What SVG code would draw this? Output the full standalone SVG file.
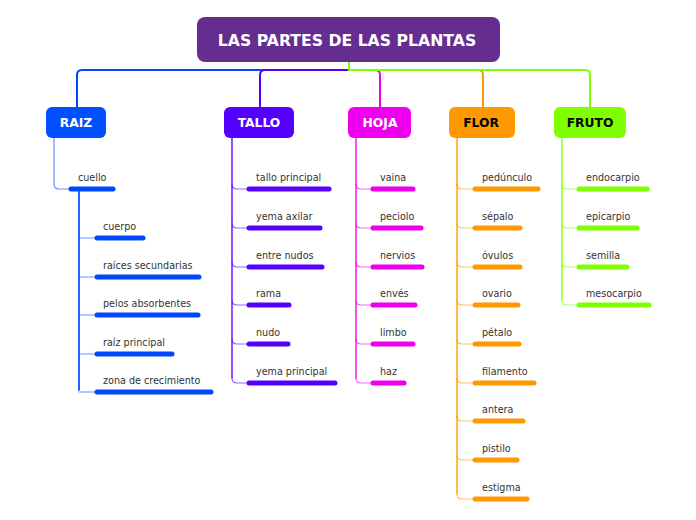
<svg xmlns="http://www.w3.org/2000/svg" width="696" height="520" viewBox="0 0 696 520">
<style>
.t{font-family:"DejaVu Sans",Verdana,sans-serif;font-size:9.6px;fill:#333}
.h{font-family:"DejaVu Sans",Verdana,sans-serif;font-weight:bold;font-size:12.3px;text-anchor:middle}
.c{fill:none;stroke-width:2;stroke-linecap:round}
.s{fill:none;stroke-width:1.2;opacity:.6}
.b{stroke-width:5;stroke-linecap:round}
.blue{stroke:#0047FF}.pur{stroke:#5500FF}.mag{stroke:#EE00EE}.ora{stroke:#FF9900}.grn{stroke:#80FF00}
</style>
<rect width="696" height="520" fill="#fff"/>
<g id="connectors">
<path class="c blue" d="M349,62 V70 H82 Q77,70 77,75 V107"/>
<path class="c pur" d="M349,62 V70 H265 Q260,70 260,75 V107"/>
<path class="c mag" d="M349,62 V70 H375 Q380,70 380,75 V107"/>
<path class="c ora" d="M349,62 V70 H478 Q483,70 483,75 V107"/>
<path class="c grn" d="M349,62 V70 H585 Q590,70 590,75 V107"/>
<!-- RAIZ -->
<path class="s blue" d="M54,138 V184 Q54,189 59,189 H69"/>
<path class="c blue" d="M79,189 V390" style="opacity:.85"/>
<path class="s blue" d="M79,238 H95 M79,277 H95 M79,315 H95 M79,354 H95 M79,392 H95"/>
<!-- TALLO -->
<path class="c pur" d="M232,138 V378" style="stroke-width:1.5;opacity:.9"/>
<path class="s pur" d="M232,184 Q232,189 237,189 H247 M232,223 Q232,228 237,228 H247 M232,262 Q232,267 237,267 H247 M232,300 Q232,305 237,305 H247 M232,339 Q232,344 237,344 H247 M232,378 Q232,383 237,383 H247"/>
<!-- HOJA -->
<path class="c mag" d="M356,138 V378" style="stroke-width:1.5;opacity:.9"/>
<path class="s mag" d="M356,184 Q356,189 361,189 H371 M356,223 Q356,228 361,228 H371 M356,262 Q356,267 361,267 H371 M356,300 Q356,305 361,305 H371 M356,339 Q356,344 361,344 H371 M356,378 Q356,383 361,383 H371"/>
<!-- FLOR -->
<path class="c ora" d="M457,138 V494" style="stroke-width:1.5;opacity:.9"/>
<path class="s ora" d="M457,184 Q457,189 462,189 H473 M457,223 Q457,228 462,228 H473 M457,262 Q457,267 462,267 H473 M457,300 Q457,305 462,305 H473 M457,339 Q457,344 462,344 H473 M457,378 Q457,383 462,383 H473 M457,416 Q457,421 462,421 H473 M457,455 Q457,460 462,460 H473 M457,494 Q457,499 462,499 H473"/>
<!-- FRUTO -->
<path class="c grn" d="M562,138 V300" style="stroke-width:1.5;opacity:.9"/>
<path class="s grn" d="M562,184 Q562,189 567,189 H577 M562,223 Q562,228 567,228 H577 M562,262 Q562,267 567,267 H577 M562,300 Q562,305 567,305 H577"/>
</g>
<g id="root">
<rect x="197" y="17" width="303" height="45" rx="8" fill="#662D91"/>
<text x="347" y="46" text-anchor="middle" style="font-family:'DejaVu Sans',Verdana,sans-serif;font-weight:bold;font-size:15.7px;fill:#fff">LAS PARTES DE LAS PLANTAS</text>
</g>
<g id="raiz"><rect x="46" y="107" width="60" height="31" rx="6" fill="#0050FF"/><text class="h" x="76" y="127" fill="#fff">RAIZ</text></g>
<g id="tallo"><rect x="224" y="107" width="70" height="31" rx="6" fill="#5500FF"/><text class="h" x="259" y="127" fill="#fff">TALLO</text></g>
<g id="hoja"><rect x="348" y="107" width="63" height="31" rx="6" fill="#EE00EE"/><text class="h" x="380" y="127" fill="#fff">HOJA</text></g>
<g id="flor"><rect x="449" y="107" width="66" height="31" rx="6" fill="#FF9900"/><text class="h" x="481" y="127" fill="#000">FLOR</text></g>
<g id="fruto"><rect x="554" y="107" width="72" height="31" rx="6" fill="#80FF00"/><text class="h" x="590" y="127" fill="#000">FRUTO</text></g>
<g id="raiz-children">
<g id="cuello"><text class="t" x="78" y="181">cuello</text><line class="b blue" x1="71" y1="189" x2="113" y2="189"/></g>
<g id="cuerpo"><text class="t" x="103" y="230">cuerpo</text><line class="b blue" x1="97" y1="238" x2="143" y2="238"/></g>
<g id="raices"><text class="t" x="103" y="269">raíces secundarias</text><line class="b blue" x1="97" y1="277" x2="199" y2="277"/></g>
<g id="pelos"><text class="t" x="103" y="307">pelos absorbentes</text><line class="b blue" x1="97" y1="315" x2="198" y2="315"/></g>
<g id="raizp"><text class="t" x="103" y="346">raíz principal</text><line class="b blue" x1="97" y1="354" x2="172" y2="354"/></g>
<g id="zona"><text class="t" x="103" y="384">zona de crecimiento</text><line class="b blue" x1="97" y1="392" x2="211" y2="392"/></g>
</g>
<g id="tallo-children">
<g id="tp"><text class="t" x="256" y="181">tallo principal</text><line class="b pur" x1="249" y1="189" x2="329" y2="189"/></g>
<g id="ya"><text class="t" x="256" y="220">yema axilar</text><line class="b pur" x1="249" y1="228" x2="320" y2="228"/></g>
<g id="en"><text class="t" x="256" y="259">entre nudos</text><line class="b pur" x1="249" y1="267" x2="322" y2="267"/></g>
<g id="rama"><text class="t" x="256" y="297">rama</text><line class="b pur" x1="249" y1="305" x2="289" y2="305"/></g>
<g id="nudo"><text class="t" x="256" y="336">nudo</text><line class="b pur" x1="249" y1="344" x2="288" y2="344"/></g>
<g id="yp"><text class="t" x="256" y="375">yema principal</text><line class="b pur" x1="249" y1="383" x2="335" y2="383"/></g>
</g>
<g id="hoja-children">
<g id="vaina"><text class="t" x="380" y="181">vaina</text><line class="b mag" x1="373" y1="189" x2="413" y2="189"/></g>
<g id="peciolo"><text class="t" x="380" y="220">peciolo</text><line class="b mag" x1="373" y1="228" x2="421" y2="228"/></g>
<g id="nervios"><text class="t" x="380" y="259">nervios</text><line class="b mag" x1="373" y1="267" x2="422" y2="267"/></g>
<g id="enves"><text class="t" x="380" y="297">envés</text><line class="b mag" x1="373" y1="305" x2="415" y2="305"/></g>
<g id="limbo"><text class="t" x="380" y="336">limbo</text><line class="b mag" x1="373" y1="344" x2="413" y2="344"/></g>
<g id="haz"><text class="t" x="380" y="375">haz</text><line class="b mag" x1="373" y1="383" x2="404" y2="383"/></g>
</g>
<g id="flor-children">
<g id="ped"><text class="t" x="482" y="181">pedúnculo</text><line class="b ora" x1="475" y1="189" x2="538" y2="189"/></g>
<g id="sep"><text class="t" x="482" y="220">sépalo</text><line class="b ora" x1="475" y1="228" x2="520" y2="228"/></g>
<g id="ovu"><text class="t" x="482" y="259">óvulos</text><line class="b ora" x1="475" y1="267" x2="520" y2="267"/></g>
<g id="ova"><text class="t" x="482" y="297">ovario</text><line class="b ora" x1="475" y1="305" x2="518" y2="305"/></g>
<g id="pet"><text class="t" x="482" y="336">pétalo</text><line class="b ora" x1="475" y1="344" x2="519" y2="344"/></g>
<g id="fil"><text class="t" x="482" y="375">filamento</text><line class="b ora" x1="475" y1="383" x2="534" y2="383"/></g>
<g id="ant"><text class="t" x="482" y="413">antera</text><line class="b ora" x1="475" y1="421" x2="523" y2="421"/></g>
<g id="pis"><text class="t" x="482" y="452">pistilo</text><line class="b ora" x1="475" y1="460" x2="517" y2="460"/></g>
<g id="est"><text class="t" x="482" y="491">estigma</text><line class="b ora" x1="475" y1="499" x2="527" y2="499"/></g>
</g>
<g id="fruto-children">
<g id="endo"><text class="t" x="586" y="181">endocarpio</text><line class="b grn" x1="579" y1="189" x2="647" y2="189"/></g>
<g id="epi"><text class="t" x="586" y="220">epicarpio</text><line class="b grn" x1="579" y1="228" x2="637" y2="228"/></g>
<g id="sem"><text class="t" x="586" y="259">semilla</text><line class="b grn" x1="579" y1="267" x2="627" y2="267"/></g>
<g id="meso"><text class="t" x="586" y="297">mesocarpio</text><line class="b grn" x1="579" y1="305" x2="649" y2="305"/></g>
</g>
</svg>
